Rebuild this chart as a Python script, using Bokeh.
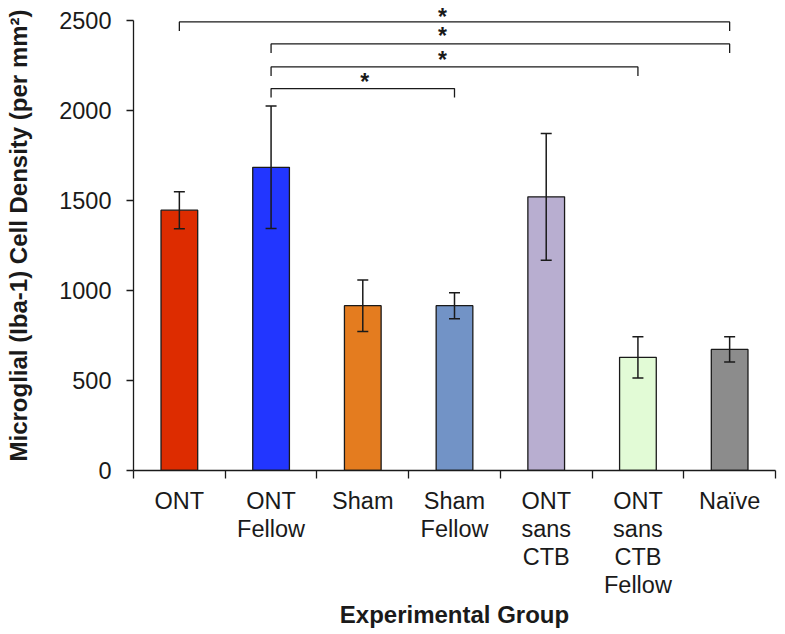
from bokeh.plotting import figure
from bokeh.models import ColumnDataSource, Range1d, FixedTicker, Whisker, TeeHead
from bokeh.core.properties import value
from bokeh.embed import file_html
from bokeh.resources import INLINE

# ---- data ----
groups = ["ONT", "ONT\nFellow", "Sham", "Sham\nFellow", "ONT\nsans\nCTB",
          "ONT\nsans\nCTB\nFellow", "Naïve"]
means = [1445, 1683, 915, 915, 1519, 628, 672]
errors = [103, 340, 143, 72, 352, 115, 70]
colors = ["#DD2C00", "#2236FF", "#E47C1F", "#7293C6", "#B8AED0", "#E2FBD6", "#8C8C8C"]
y_ticks = [0, 500, 1000, 1500, 2000, 2500]

# significance brackets (group index from, group index to, level)
bracket_from = [0, 1, 1, 1]
bracket_to = [6, 6, 5, 3]
bracket_level = [2490, 2368, 2240, 2120]
bracket_drop = 50
star_x = [3.37, 3.37, 3.37, 2.52]
star_y = [2518, 2413, 2279, 2154]

centers = [i + 0.5 for i in range(len(groups))]
src = ColumnDataSource(dict(
    x=centers, top=means, color=colors,
    upper=[m + e for m, e in zip(means, errors)],
    lower=[m - e for m, e in zip(means, errors)],
))

FONT = "Liberation Sans"
TXT = "#1a1a1a"

p = figure(width=780, height=630, output_backend="svg", toolbar_location=None,
           x_range=Range1d(0, len(groups)), y_range=Range1d(0, 2609),
           min_border_left=133, min_border_right=5, min_border_top=0,
           min_border_bottom=159)
p.outline_line_color = None
p.xgrid.visible = False
p.ygrid.visible = False
p.background_fill_color = "white"
p.border_fill_color = "white"

p.vbar(x="x", top="top", width=0.4, fill_color="color", line_color="#1a1a1a",
       line_width=1.3, source=src)

w = Whisker(base="x", upper="upper", lower="lower", source=src, level="overlay",
            line_color="#1a1a1a", line_width=1.5,
            upper_head=TeeHead(size=11, line_color="#1a1a1a", line_width=1.5),
            lower_head=TeeHead(size=11, line_color="#1a1a1a", line_width=1.5))
p.add_layout(w)

bx = [[centers[a], centers[a], centers[b], centers[b]] for a, b in zip(bracket_from, bracket_to)]
by = [[l - bracket_drop, l, l, l - bracket_drop] for l in bracket_level]
p.multi_line(xs=bx, ys=by, line_color="#1a1a1a", line_width=1.3)
p.text(x=star_x, y=star_y, text=["*"] * len(star_x), text_align="center",
       text_baseline="alphabetic", text_font=value(FONT), text_font_style="bold",
       text_font_size="23px", text_color=TXT)

# y axis
ya = p.yaxis[0]
ya.ticker = FixedTicker(ticks=y_ticks)
ya.bounds = (0, 2500)
ya.major_tick_in = 0
ya.major_tick_out = 7
ya.minor_tick_in = 0
ya.minor_tick_out = 0
ya.axis_line_color = "#1a1a1a"
ya.axis_line_width = 1.3
ya.major_tick_line_color = "#1a1a1a"
ya.major_tick_line_width = 1.3
ya.major_label_text_font = FONT
ya.major_label_text_font_size = "23.5px"
ya.major_label_text_color = TXT
ya.major_label_standoff = 15
ya.axis_label = "Microglial (Iba-1) Cell Density (per mm²)"
ya.axis_label_text_font = FONT
ya.axis_label_text_font_style = "bold"
ya.axis_label_text_font_size = "24px"
ya.axis_label_text_color = TXT
ya.axis_label_standoff = 24

# x axis
xa = p.xaxis[0]
xa.ticker = FixedTicker(ticks=centers, minor_ticks=list(range(len(groups) + 1)))
xa.bounds = (0, len(groups))
xa.major_label_overrides = {c: g for c, g in zip(centers, groups)}
xa.major_tick_in = 0
xa.major_tick_out = 0
xa.minor_tick_in = 0
xa.minor_tick_out = 8
xa.axis_line_color = "#1a1a1a"
xa.axis_line_width = 1.3
xa.minor_tick_line_color = "#1a1a1a"
xa.minor_tick_line_width = 1.3
xa.major_label_text_font = FONT
xa.major_label_text_font_size = "23.5px"
xa.major_label_text_color = TXT
xa.major_label_text_line_height = 1.08
xa.major_label_standoff = 9
xa.axis_label = "Experimental Group"
xa.axis_label_text_font = FONT
xa.axis_label_text_font_style = "bold"
xa.axis_label_text_font_size = "24px"
xa.axis_label_text_color = TXT
xa.axis_label_standoff = 0

open("out.html", "w").write(file_html(p, INLINE))
